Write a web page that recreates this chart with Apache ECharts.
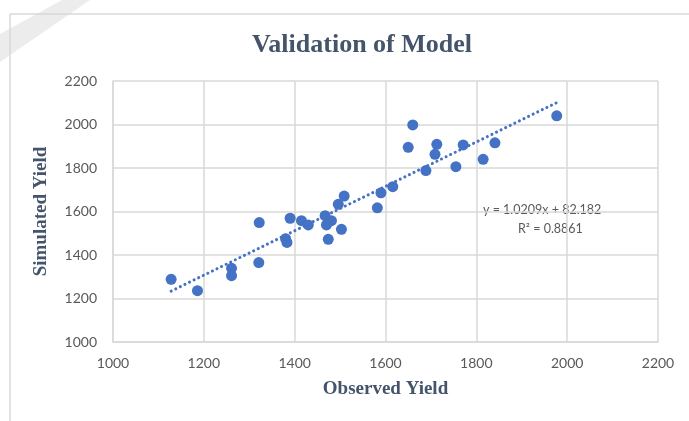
<!DOCTYPE html>
<html>
<head>
<meta charset="utf-8">
<script src="https://cdn.jsdelivr.net/npm/echarts@6/dist/echarts.min.js"></script>
<style>
html,body{margin:0;padding:0;background:#fff;}
#chart{width:689px;height:421px;}
</style>
</head>
<body>
<div id="chart"></div>
<script>
const observed = [1128,1186,1261,1261,1322,1321,1380,1383,1390,1415,1430,1467,1470,1481,1474,1503,1496,1509,1590,1582,1616,1650,1660,1689,1709,1713,1755,1771,1815,1841,1977];
const simulated = [1288,1236,1339,1305,1549,1365,1475,1458,1569,1558,1538,1581,1538,1558,1472,1518,1633,1671,1686,1617,1714,1895,1998,1788,1863,1909,1806,1906,1840,1916,2040];
const slope = 1.0209;
const intercept = 82.182;
const rSquared = 0.8861;
const axisTicks = [1000,1200,1400,1600,1800,2000,2200];

const points = observed.map((x,i)=>[x, simulated[i]]);
const xMin = Math.min(...observed), xMax = Math.max(...observed);
const trend = [[xMin, slope*xMin+intercept],[xMax, slope*xMax+intercept]];

const chart = echarts.init(document.getElementById('chart'));
const labelColor = '#595959';
const titleColor = '#44546A';
chart.setOption({
  animation:false,
  backgroundColor:'#fff',
  title:{
    text:'Validation of Model',
    left:357, top:27, textAlign:'center',
    textStyle:{fontFamily:'Liberation Serif',fontWeight:'bold',fontSize:26,color:titleColor}
  },
  graphic:[
    {type:'polygon',shape:{points:[[62,0],[90,0],[0,62],[0,34]]},style:{fill:'#ececec'},z:-1},
    {type:'line',shape:{x1:10,y1:14,x2:689,y2:14},style:{stroke:'#d9d9d9',lineWidth:1.5}},
    {type:'line',shape:{x1:10,y1:14,x2:10,y2:421},style:{stroke:'#d9d9d9',lineWidth:1.5}},
    {type:'text',left:483,top:203,style:{text:'y = '+slope.toFixed(4)+'x + '+intercept.toFixed(3),fontFamily:'Lato',fontSize:12.5,fill:labelColor}},
    {type:'text',left:518,top:222,style:{text:'R² = '+rSquared.toFixed(4),fontFamily:'Lato',fontSize:12.5,fill:labelColor}}
  ],
  grid:{left:113,right:31,top:81,bottom:79},
  xAxis:{
    type:'value',min:axisTicks[0],max:axisTicks[axisTicks.length-1],interval:200,
    name:'Observed Yield',nameLocation:'middle',nameGap:38,
    nameTextStyle:{fontFamily:'Liberation Serif',fontWeight:'bold',fontSize:19,color:titleColor},
    axisLine:{show:true,lineStyle:{color:'#d9d9d9',width:1.5}},
    axisTick:{show:false},
    axisLabel:{color:labelColor,fontFamily:'Lato',fontSize:14,margin:14,formatter:v=>String(v)},
    splitLine:{show:true,lineStyle:{color:'#d9d9d9',width:1.5}}
  },
  yAxis:{
    type:'value',min:axisTicks[0],max:axisTicks[axisTicks.length-1],interval:200,
    name:'Simulated Yield',nameLocation:'middle',nameGap:62,
    nameTextStyle:{fontFamily:'Liberation Serif',fontWeight:'bold',fontSize:19,color:titleColor},
    axisLine:{show:true,lineStyle:{color:'#d9d9d9',width:1.5}},
    axisTick:{show:false},
    axisLabel:{color:labelColor,fontFamily:'Lato',fontSize:14,margin:16,formatter:v=>String(v)},
    splitLine:{show:true,lineStyle:{color:'#d9d9d9',width:1.5}}
  },
  series:[
    {type:'line',data:trend,symbol:'none',z:1,
     lineStyle:{color:'#4472C4',width:3,type:[0.1,5],cap:'round'}},
    {type:'scatter',data:points,symbol:'circle',symbolSize:11,z:2,
     itemStyle:{color:'#4472C4',opacity:1}}
  ]
});
</script>
</body>
</html>
